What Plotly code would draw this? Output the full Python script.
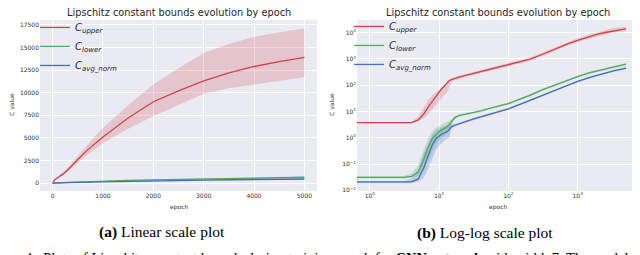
import numpy as np
import plotly.graph_objects as go

# ---------------- data ----------------
epochs = [0, 1, 2, 3, 4, 5, 6, 7, 8, 9, 10, 11, 12, 13, 14, 15, 17, 20, 25, 30, 40, 50, 70,
          100, 150, 200, 300, 500, 700, 1000, 1500, 2000, 2500, 3000, 3500, 4000, 4500, 5000]

c_upper = [3.7, 3.7, 3.7, 3.7, 3.8, 4.8, 8, 15, 25, 38, 55, 75, 100, 125, 150, 165, 185, 210, 245, 275,
           330, 380, 470, 620, 800, 960, 1450, 2600, 3700, 5100, 7200, 9000, 10200, 11300, 12200,
           12900, 13450, 13900]
c_upper_lo = [3.5, 3.5, 3.5, 3.5, 3.6, 4.2, 5.5, 8, 12, 17, 24, 32, 42, 55, 80, 130, 160, 185, 215, 240,
              290, 330, 410, 540, 690, 830, 1250, 2250, 3200, 4400, 6000, 7400, 8600, 9870, 10500,
              10900, 11300, 11700]
c_upper_hi = [3.9, 3.9, 3.9, 3.9, 4.0, 6.5, 14, 28, 42, 55, 70, 85, 100, 120, 140, 170, 210, 240, 280,
              315, 380, 440, 540, 720, 930, 1120, 1700, 3000, 4300, 6100, 8600, 10900, 12700, 14380,
              15400, 16200, 16700, 17100]

c_lower = [0.031, 0.031, 0.031, 0.031, 0.034, 0.05, 0.15, 0.45, 0.95, 1.35, 1.7, 2.0, 2.3, 2.6, 3.2,
           4.0, 6.0, 7.2, 8.2, 8.6, 10.5, 12.6, 16, 20, 30, 40, 65, 110, 155, 215, 300, 360, 420, 470,
           520, 560, 600, 640]
c_lower_lo = [0.028, 0.028, 0.028, 0.028, 0.03, 0.035, 0.06, 0.15, 0.35, 0.6, 0.85, 1.05, 1.25, 1.45,
              1.7, 3.3, 5.2, 6.5, 7.4, 7.9, 9.6, 11.6, 14.8, 18.5, 27.5, 36.5, 59, 100, 142, 197, 275,
              330, 385, 430, 475, 510, 545, 580]
c_lower_hi = [0.034, 0.034, 0.034, 0.034, 0.045, 0.09, 0.35, 1.0, 1.8, 2.4, 2.8, 3.2, 3.5, 3.9, 4.6,
              5.0, 6.8, 8.0, 9.0, 9.4, 11.5, 13.8, 17.5, 22, 33, 44, 71, 120, 170, 235, 330, 395, 460,
              515, 570, 615, 660, 705]

c_avg = [0.020, 0.020, 0.020, 0.020, 0.021, 0.027, 0.07, 0.22, 0.55, 0.95, 1.2, 1.4, 1.55, 1.7, 2.0,
         2.6, 3.0, 3.5, 4.3, 5.0, 6.2, 7.3, 9.5, 12.6, 19, 26, 40, 70, 100, 140, 200, 250, 290, 330,
         365, 395, 425, 450]
c_avg_lo = [0.018, 0.018, 0.018, 0.018, 0.019, 0.021, 0.03, 0.07, 0.18, 0.35, 0.5, 0.65, 0.8, 0.9,
            1.0, 2.2, 2.7, 3.2, 3.9, 4.6, 5.7, 6.7, 8.7, 11.6, 17.5, 24, 37, 64, 92, 128, 184, 230,
            267, 303, 336, 363, 391, 414]
c_avg_hi = [0.022, 0.022, 0.022, 0.022, 0.028, 0.06, 0.25, 0.65, 1.3, 1.9, 2.3, 2.6, 2.8, 3.0, 3.3,
            3.4, 3.5, 3.9, 4.7, 5.5, 6.8, 8.0, 10.4, 13.8, 20.8, 28, 43, 76, 108, 152, 216, 270, 313,
            357, 394, 427, 459, 486]

lin_xticks = [0, 1000, 2000, 3000, 4000, 5000]
lin_xtext = ["0", "1000", "2000", "3000", "4000", "5000"]
lin_yticks = [0, 2500, 5000, 7500, 10000, 12500, 15000, 17500]
lin_ytext = ["0", "2500", "5000", "7500", "10000", "12500", "15000", "17500"]
log_xticks = [1, 10, 100, 1000]
log_xtext = ["10<sup>0</sup>", "10<sup>1</sup>", "10<sup>2</sup>", "10<sup>3</sup>"]
log_yticks = [0.01, 0.1, 1, 10, 100, 1000, 10000]
log_ytext = ["10<sup>\u22122</sup>", "10<sup>\u22121</sup>", "10<sup>0</sup>", "10<sup>1</sup>",
             "10<sup>2</sup>", "10<sup>3</sup>", "10<sup>4</sup>"]

title_text = "Lipschitz constant bounds evolution by epoch"
series = [
    ("<i>C</i><sub><i>upper</i></sub>", c_upper, c_upper_lo, c_upper_hi, "#d1434a", "rgba(209,67,74,0.22)"),
    ("<i>C</i><sub><i>lower</i></sub>", c_lower, c_lower_lo, c_lower_hi, "#4dab5e", "rgba(77,171,94,0.25)"),
    ("<i>C</i><sub><i>avg_norm</i></sub>", c_avg, c_avg_lo, c_avg_hi, "#4470b8", "rgba(68,112,184,0.25)"),
]

# ---------------- figure ----------------
W, H = 640, 255
def px(x): return x / W
def py(y): return 1 - y / H

ep = np.array(epochs, dtype=float)
ep_log = np.where(ep > 0, ep, 1e-3)  # like matplotlib's 'clip' of non-positive values

fig = go.Figure()
for (xa, ya, xs, leg) in [("x", "y", ep, "legend"), ("x2", "y2", ep_log, "legend2")]:
    for name, mean, lo, hi, col, fill in series:
        fig.add_trace(go.Scatter(x=xs, y=lo, mode="lines", line=dict(width=0), xaxis=xa, yaxis=ya,
                                 showlegend=False, hoverinfo="skip"))
        fig.add_trace(go.Scatter(x=xs, y=hi, mode="lines", line=dict(width=0), fill="tonexty",
                                 fillcolor=fill, xaxis=xa, yaxis=ya, showlegend=False, hoverinfo="skip"))
    for name, mean, lo, hi, col, fill in series:
        fig.add_trace(go.Scatter(x=xs, y=mean, mode="lines", name=name, line=dict(color=col, width=1.3),
                                 xaxis=xa, yaxis=ya, legend=leg))

tickfont = dict(family="DejaVu Sans", size=6, color="#333333")
common = dict(showgrid=True, gridcolor="white", gridwidth=1, zeroline=False, showline=False,
              ticks="", tickfont=tickfont)

legfont = dict(family="DejaVu Sans", size=10, color="#262626")
fig.update_layout(
    width=W, height=H, margin=dict(l=0, r=0, t=0, b=0),
    paper_bgcolor="white", plot_bgcolor="#EAEAF2", showlegend=True,
    xaxis=dict(domain=[px(32), px(309)], range=[-250, 5250], tickvals=lin_xticks, ticktext=lin_xtext,
               anchor="y", **common),
    yaxis=dict(domain=[py(185), py(12)], range=[-860, 18060], tickvals=lin_yticks, ticktext=lin_ytext,
               anchor="x", **common),
    xaxis2=dict(domain=[px(349), px(631)], type="log", range=[-0.185, 3.885], tickvals=log_xticks,
                ticktext=log_xtext, anchor="y2", **common),
    yaxis2=dict(domain=[py(185), py(12)], type="log", range=[-2.02, 4.49], tickvals=log_yticks,
                ticktext=log_ytext, anchor="x2", **common),
    legend=dict(x=px(27), y=py(5), xanchor="left", yanchor="top", bgcolor="rgba(0,0,0,0)",
                font=legfont, tracegroupgap=0, traceorder="normal"),
    legend2=dict(x=px(341), y=py(4), xanchor="left", yanchor="top", bgcolor="rgba(0,0,0,0)",
                 font=legfont, tracegroupgap=0, traceorder="normal"),
)

ann = []
for cx in (170.5, 490):
    ann.append(dict(x=px(cx), y=py(5), text=title_text, showarrow=False, xref="paper", yref="paper",
                    xanchor="center", yanchor="middle",
                    font=dict(family="DejaVu Sans", size=9.8, color="#262626")))
    ann.append(dict(x=px(cx), y=py(201), text="epoch", showarrow=False, xref="paper", yref="paper",
                    xanchor="center", yanchor="middle", font=tickfont))
for lx in (4, 324):
    ann.append(dict(x=px(lx), y=py(98), text="C value", textangle=-90, showarrow=False, xref="paper",
                    yref="paper", xanchor="center", yanchor="middle", font=tickfont))
capfont = dict(family="Liberation Serif", size=15.5, color="black")
ann.append(dict(x=px(154), y=py(227), text="<b>(a)</b> Linear scale plot", showarrow=False, xref="paper",
                yref="paper", xanchor="center", yanchor="middle", font=capfont))
ann.append(dict(x=px(477), y=py(228), text="<b>(b)</b> Log-log scale plot", showarrow=False, xref="paper",
                yref="paper", xanchor="center", yanchor="middle", font=capfont))
ann.append(dict(x=px(15), y=py(253), text="4.  Plots of Lipschitz constant bounds during training epoch for "
                "<b>CNN network</b> with width 7. The model l", showarrow=False, xref="paper", yref="paper",
                xanchor="left", yanchor="middle", font=dict(family="Liberation Serif", size=14.5, color="black")))
fig.update_layout(annotations=ann)

fig.write_html("out.html")
